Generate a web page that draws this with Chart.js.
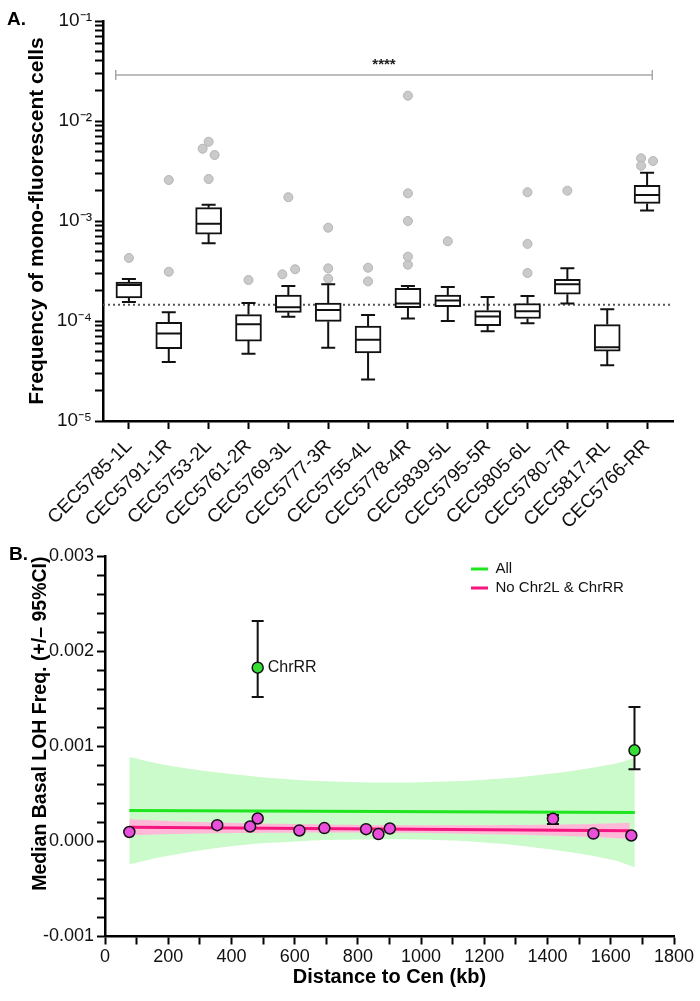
<!DOCTYPE html>
<html>
<head>
<meta charset="utf-8">
<script src="https://cdn.jsdelivr.net/npm/chart.js@4.4.1/dist/chart.umd.min.js"></script>
<style>
  body { margin: 0; background: #fff; }
  #wrap { position: relative; width: 700px; height: 1001px; font-family: "Liberation Sans", Arial, sans-serif; }
  .panel { position: absolute; left: 0; width: 700px; }
  #boxWrap { top: 0; height: 545px; }
  #fitWrap { top: 540px; height: 461px; }
  .tag { position: absolute; font-weight: bold; font-size: 19px; line-height: 19px; color: #000; }
</style>
</head>
<body>
<div id="wrap">
  <div class="panel" id="boxWrap"><canvas id="boxChart"></canvas></div>
  <div class="panel" id="fitWrap"><canvas id="fitChart"></canvas></div>
  <div class="tag" style="left:7px;top:9px">A.</div>
  <div class="tag" style="left:9px;top:544px">B.</div>
</div>
<script>
// ---- panel A: box plots per strain ----
const strains = ["CEC5785-1L", "CEC5791-1R", "CEC5753-2L", "CEC5761-2R", "CEC5769-3L", "CEC5777-3R", "CEC5755-4L",
  "CEC5778-4R", "CEC5839-5L", "CEC5795-5R", "CEC5805-6L", "CEC5780-7R", "CEC5817-RL", "CEC5766-RR"];
const whiskerLow = [1.55e-4, 3.9e-5, 6.0e-4, 4.7e-5, 1.1e-4, 5.4e-5, 2.6e-5, 1.06e-4, 1.0e-4, 7.9e-5, 9.5e-5, 1.5e-4, 3.6e-5, 1.27e-3];
const quart1 = [1.70e-4, 5.3e-5, 7.4e-4, 6.3e-5, 1.22e-4, 9.9e-5, 4.8e-5, 1.36e-4, 1.39e-4, 9.0e-5, 1.06e-4, 1.85e-4, 5.0e-5, 1.50e-3];
const medians = [2.29e-4, 7.5e-5, 9.4e-4, 9.3e-5, 1.37e-4, 1.29e-4, 6.5e-5, 1.50e-4, 1.60e-4, 1.11e-4, 1.25e-4, 2.33e-4, 5.45e-5, 1.82e-3];
const quart3 = [2.45e-4, 9.7e-5, 1.36e-3, 1.16e-4, 1.82e-4, 1.51e-4, 8.9e-5, 2.12e-4, 1.82e-4, 1.27e-4, 1.49e-4, 2.61e-4, 9.2e-5, 2.27e-3];
const whiskerHigh = [2.63e-4, 1.22e-4, 1.45e-3, 1.51e-4, 2.24e-4, 2.33e-4, 1.15e-4, 2.24e-4, 2.19e-4, 1.74e-4, 1.78e-4, 3.36e-4, 1.31e-4, 3.04e-3];
const outlierPos = [0, 1, 1, 2, 1.85, 2.15, 2, 3, 3.85, 4.17, 4, 5, 5, 5, 6, 6, 7, 7, 7, 7, 7, 8, 10, 10, 10, 11, 12.85, 13.15, 12.85];
const outlierFreq = [4.27e-4, 3.11e-4, 2.57e-3, 6.2e-3, 5.28e-3, 4.57e-3, 2.63e-3, 2.57e-4, 2.93e-4, 3.29e-4, 1.73e-3,
  2.65e-4, 3.36e-4, 8.57e-4, 2.49e-4, 3.41e-4, 3.66e-4, 4.4e-4, 1.0e-3, 1.89e-3, 1.79e-2, 6.27e-4,
  3.02e-4, 5.9e-4, 1.94e-3, 2.01e-3, 4.24e-3, 3.98e-3, 3.57e-3];
const overallMedian = 1.45e-4;
const sigSpan = [-0.33, 13.13];
const sigLevel = 0.0288;
const sigText = "****";
const yDecades = [1e-5, 1e-4, 1e-3, 1e-2, 1e-1];
const yDecadeLabels = ["10\u207B\u2075", "10\u207B\u2074", "10\u207B\u00B3", "10\u207B\u00B2", "10\u207B\u00B9"];

// ---- panel B: LOH vs distance ----
const chromDistance = [77, 355, 459, 483, 615, 694, 826, 865, 901, 1417, 1545, 1665];
const chromLOH = [1.0e-4, 1.72e-4, 1.58e-4, 2.42e-4, 1.16e-4, 1.41e-4, 1.30e-4, 0.78e-4, 1.37e-4, 2.39e-4, 0.84e-4, 0.63e-4];
const chromLow = [null, null, null, null, null, null, null, null, null, 1.85e-4, null, null];
const chromHigh = [null, null, null, null, null, null, null, null, null, 2.8e-4, null, null];
const excludedDistance = [483, 1675];
const excludedLOH = [1.83e-3, 9.6e-4];
const excludedLow = [1.52e-3, 7.6e-4];
const excludedHigh = [2.32e-3, 1.415e-3];
const excludedNames = ["ChrRR", ""];
const allFitX = [77, 1676];
const allFitY = [3.26e-4, 3.05e-4];
const subsetFitX = [77, 1660];
const subsetFitY = [1.50e-4, 1.13e-4];
const allBandX = [77, 200, 400, 600, 800, 1000, 1200, 1400, 1600, 1676];
const allBandHigh = [8.9e-4, 8.0e-4, 7.1e-4, 6.5e-4, 6.25e-4, 6.25e-4, 6.5e-4, 7.1e-4, 8.1e-4, 8.8e-4];
const allBandLow = [-2.4e-4, -1.5e-4, -5e-5, 0, 2e-5, 2e-5, -1e-5, -8e-5, -1.9e-4, -2.7e-4];
const subsetBandX = [77, 300, 600, 900, 1200, 1500, 1660];
const subsetBandHigh = [2.35e-4, 2.05e-4, 1.83e-4, 1.71e-4, 1.72e-4, 1.82e-4, 1.98e-4];
const subsetBandLow = [6.5e-5, 8.5e-5, 9.3e-5, 9.1e-5, 7.6e-5, 5.2e-5, 2.8e-5];
const legendNames = ["All", "No Chr2L & ChrRR"];

Chart.defaults.font.family = "'Liberation Sans', Arial, Helvetica, sans-serif";
Chart.defaults.color = "#000";
Chart.defaults.animation = false;
Chart.defaults.plugins.tooltip.enabled = false;

const pts = (xs, ys) => xs.map((x, i) => ({ x: x, y: ys[i] }));

const yLogTicks = [];
yDecades.forEach((d, k) => {
  if (k === yDecades.length - 1) { yLogTicks.push(d); return; }
  for (let m = 1; m <= 9; m++) yLogTicks.push(d * m);
});

const whiskerPlugin = {
  id: "whiskers",
  afterDatasetsDraw(chart) {
    const { ctx, scales: { x, y } } = chart;
    ctx.save();
    ctx.strokeStyle = "#111";
    ctx.lineWidth = 2;
    strains.forEach((s, i) => {
      const cx = x.getPixelForValue(i);
      const pLow = y.getPixelForValue(whiskerLow[i]);
      const pHigh = y.getPixelForValue(whiskerHigh[i]);
      const pQ1 = y.getPixelForValue(quart1[i]);
      const pQ3 = y.getPixelForValue(quart3[i]);
      const pMed = y.getPixelForValue(medians[i]);
      ctx.beginPath();
      ctx.moveTo(cx, pQ3); ctx.lineTo(cx, pHigh);
      ctx.moveTo(cx - 7, pHigh); ctx.lineTo(cx + 7, pHigh);
      ctx.moveTo(cx, pQ1); ctx.lineTo(cx, pLow);
      ctx.moveTo(cx - 7, pLow); ctx.lineTo(cx + 7, pLow);
      ctx.moveTo(cx - 12, pMed); ctx.lineTo(cx + 12, pMed);
      ctx.stroke();
    });
    ctx.fillStyle = "#222";
    ctx.font = "bold 15px 'Liberation Sans', Arial";
    ctx.textAlign = "center";
    ctx.textBaseline = "bottom";
    ctx.fillText(sigText, x.getPixelForValue((sigSpan[0] + sigSpan[1]) / 2), y.getPixelForValue(sigLevel) - 3);
    ctx.restore();
  }
};

new Chart(document.getElementById("boxChart"), {
  type: "bar",
  data: {
    datasets: [
      {
        type: "line",
        data: [{ x: -0.65, y: overallMedian }, { x: 13.65, y: overallMedian }],
        borderColor: "#555",
        borderWidth: 2,
        borderDash: [2, 3],
        pointRadius: 0,
        order: 4
      },
      {
        type: "line",
        data: sigSpan.map(v => ({ x: v, y: sigLevel })),
        borderColor: "#a8a8a8",
        borderWidth: 1.5,
        pointStyle: "line",
        rotation: 90,
        pointRadius: 5,
        pointBorderColor: "#a8a8a8",
        pointBorderWidth: 1.5,
        order: 4
      },
      {
        type: "bar",
        data: strains.map((s, i) => ({ x: i, y: [quart1[i], quart3[i]] })),
        backgroundColor: "#fff",
        borderColor: "#111",
        borderWidth: 2,
        borderSkipped: false,
        barThickness: 26,
        order: 2
      },
      {
        type: "scatter",
        data: pts(outlierPos, outlierFreq),
        backgroundColor: "#cacaca",
        borderColor: "#b4b4b4",
        borderWidth: 1,
        pointRadius: 4.5,
        order: 1
      }
    ]
  },
  options: {
    responsive: true,
    maintainAspectRatio: false,
    layout: { padding: { top: 21, right: 27, left: 0, bottom: 0 } },
    plugins: { legend: { display: false } },
    scales: {
      x: {
        type: "linear",
        min: -0.65,
        max: 13.65,
        offset: false,
        afterBuildTicks(scale) { scale.ticks = strains.map((s, i) => ({ value: i })); },
        afterFit(scale) { scale.height = 124; },
        grid: { display: true, offset: false, drawOnChartArea: false, tickLength: 8, tickWidth: 2, tickColor: "#000" },
        border: { display: true, color: "#000", width: 2.5 },
        ticks: {
          autoSkip: false, minRotation: 45, maxRotation: 45, padding: 6,
          font: { size: 19 }, color: "#111",
          callback: v => strains[v]
        }
      },
      y: {
        type: "logarithmic",
        min: 1e-5,
        max: 1e-1,
        afterBuildTicks(scale) { scale.ticks = yLogTicks.map(v => ({ value: v, major: yDecades.includes(v) })); },
        afterFit(scale) { scale.width = 103; },
        grid: { display: true, drawOnChartArea: false, tickLength: 8, tickWidth: 2, tickColor: "#000" },
        border: { display: true, color: "#000", width: 2.5 },
        ticks: {
          autoSkip: false, padding: 3, font: { size: 19 }, color: "#111",
          callback: v => { const k = yDecades.indexOf(v); return k >= 0 ? yDecadeLabels[k] : ""; }
        },
        title: {
          display: true,
          text: "Frequency of mono-fluorescent cells",
          font: { size: 21, weight: "bold" },
          padding: { top: 25, bottom: 0 }
        }
      }
    }
  },
  plugins: [whiskerPlugin]
});

// ---- panel B ----
const ciPlugin = {
  id: "ciBars",
  beforeDatasetDraw(chart, args) {
    const ds = chart.data.datasets[args.index];
    if (!ds.ciLow) return;
    const { ctx, scales: { x, y } } = chart;
    ctx.save();
    ctx.strokeStyle = "#111";
    ctx.lineWidth = 2;
    ds.data.forEach((p, i) => {
      if (ds.ciLow[i] == null) return;
      const px = x.getPixelForValue(p.x);
      const lo = y.getPixelForValue(ds.ciLow[i]);
      const hi = y.getPixelForValue(ds.ciHigh[i]);
      ctx.beginPath();
      ctx.moveTo(px, lo); ctx.lineTo(px, hi);
      ctx.moveTo(px - 6, lo); ctx.lineTo(px + 6, lo);
      ctx.moveTo(px - 6, hi); ctx.lineTo(px + 6, hi);
      ctx.stroke();
    });
    ctx.restore();
  },
  afterDatasetsDraw(chart) {
    const { ctx, scales: { x, y } } = chart;
    ctx.save();
    ctx.fillStyle = "#111";
    ctx.font = "16px 'Liberation Sans', Arial";
    ctx.textAlign = "left";
    ctx.textBaseline = "middle";
    excludedNames.forEach((n, i) => {
      if (!n) return;
      ctx.fillText(n, x.getPixelForValue(excludedDistance[i]) + 10, y.getPixelForValue(excludedLOH[i]));
    });
    ctx.restore();
  },
  afterLayout(chart) {
    const lg = chart.legend;
    if (!lg) return;
    const left = chart.chartArea.left + 362;
    const top = chart.chartArea.top + 1;
    lg.left = left; lg.right = left + lg.width;
    lg.top = top; lg.bottom = top + lg.height;
  }
};

new Chart(document.getElementById("fitChart"), {
  type: "line",
  data: {
    datasets: [
      {
        label: "", data: pts(allBandX, allBandHigh), borderColor: "transparent", borderWidth: 0,
        pointRadius: 0, fill: false, tension: 0.4, order: 10
      },
      {
        label: "", data: pts(allBandX, allBandLow), borderColor: "transparent", borderWidth: 0,
        pointRadius: 0, fill: "-1", backgroundColor: "#cbfacb", tension: 0.4, order: 10
      },
      {
        label: "", data: pts(subsetBandX, subsetBandHigh), borderColor: "transparent", borderWidth: 0,
        pointRadius: 0, fill: false, tension: 0.4, order: 9
      },
      {
        label: "", data: pts(subsetBandX, subsetBandLow), borderColor: "transparent", borderWidth: 0,
        pointRadius: 0, fill: "-1", backgroundColor: "#ffb9d8", tension: 0.4, order: 9
      },
      {
        label: legendNames[0], data: pts(allFitX, allFitY), borderColor: "#1ee61e", backgroundColor: "#1ee61e",
        borderWidth: 3, pointRadius: 0, order: 5
      },
      {
        label: legendNames[1], data: pts(subsetFitX, subsetFitY), borderColor: "#f5157f", backgroundColor: "#f5157f",
        borderWidth: 3, pointRadius: 0, order: 4
      },
      {
        type: "scatter", label: "", data: pts(chromDistance, chromLOH), ciLow: chromLow, ciHigh: chromHigh,
        backgroundColor: "#ea4fdc", borderColor: "#111", borderWidth: 1.5, pointRadius: 5.5, order: 2
      },
      {
        type: "scatter", label: "", data: pts(excludedDistance, excludedLOH), ciLow: excludedLow, ciHigh: excludedHigh,
        backgroundColor: "#35dd35", borderColor: "#111", borderWidth: 1.5, pointRadius: 5.5, order: 1
      }
    ]
  },
  options: {
    responsive: true,
    maintainAspectRatio: false,
    layout: { padding: { top: 16.5, right: 26, left: 0, bottom: 0 } },
    plugins: {
      legend: {
        display: true,
        position: "chartArea",
        align: "start",
        labels: {
          boxWidth: 17, boxHeight: 3, padding: 4, color: "#111", font: { size: 15 },
          filter: item => legendNames.includes(item.text),
          sort: (a, b) => legendNames.indexOf(a.text) - legendNames.indexOf(b.text),
          generateLabels: chart => Chart.defaults.plugins.legend.labels.generateLabels(chart).map(l => Object.assign(l, { lineWidth: 0 }))
        }
      }
    },
    scales: {
      x: {
        type: "linear", min: 0, max: 1800,
        afterFit(scale) { scale.height = 64.5; },
        grid: { display: true, drawOnChartArea: false, tickLength: 8, tickWidth: 2, tickColor: "#000" },
        border: { display: true, color: "#000", width: 2.5 },
        ticks: {
          stepSize: 100, autoSkip: false, maxRotation: 0, padding: 2, font: { size: 18 }, color: "#111",
          callback: v => (v % 200 === 0 ? String(v) : "")
        },
        title: {
          display: true, text: "Distance to Cen (kb)",
          font: { size: 20, weight: "bold" }, padding: { top: 0, bottom: 12 }
        }
      },
      y: {
        type: "linear", min: -0.001, max: 0.003,
        afterFit(scale) { scale.width = 105; },
        grid: { display: true, drawOnChartArea: false, tickLength: 8, tickWidth: 2, tickColor: "#000" },
        border: { display: true, color: "#000", width: 2.5 },
        ticks: {
          stepSize: 0.0002, autoSkip: false, padding: 3, font: { size: 18 }, color: "#111",
          callback: v => {
            const n = Math.round(v * 1e4);
            return n % 10 === 0 ? (n / 1e4).toFixed(3) : "";
          }
        },
        title: {
          display: true, text: "Median Basal LOH Freq. (+/\u2013 95%CI)", align: "end",
          font: { size: 19.5, weight: "bold" }, padding: { top: 29, bottom: 0 }
        }
      }
    }
  },
  plugins: [ciPlugin]
});
</script>
</body>
</html>
